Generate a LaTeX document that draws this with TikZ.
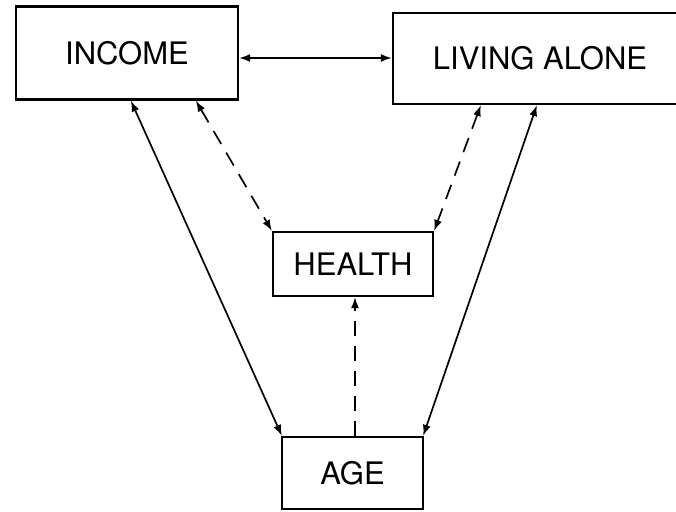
\documentclass[tikz,border=0pt]{standalone}
\usepackage{fontspec}
\setmainfont{TeX Gyre Heros}
\usetikzlibrary{arrows.meta}
\begin{document}
\begin{tikzpicture}[x=1pt,y=-1pt,
  tip/.tip={Latex[length=11pt,width=8pt]},
  box/.style={draw,line width=2.3pt,inner sep=0pt,font=\fontsize{31}{31}\selectfont},
  link/.style={line width=1.7pt,tip-tip},
  dlink/.style={link,dash pattern=on 15pt off 10pt},
  uplink/.style={line width=1.7pt,-tip,dash pattern=on 15pt off 10pt}]
\useasboundingbox (0,0) rectangle (676,511);
\clip (0,0) rectangle (676,511);
% boxes
\node[box,minimum width=222pt,minimum height=93pt] (income) at (127,53) {INCOME};
\node[box,minimum width=294pt,minimum height=91pt] (living) at (540,58.5) {LIVING ALONE};
\node[box,minimum width=160pt,minimum height=64pt] (health) at (353,264) {HEALTH};
\node[box,minimum width=141pt,minimum height=72pt] (age) at (352.5,473) {AGE};
% solid links
\draw[link] ([yshift=-5pt]income.east) -- ([yshift=-5pt]income.east -| living.west);
\draw[link] ([xshift=116pt]income.south west) -- ([xshift=1pt]age.north west);
\draw[link] ([xshift=145pt]living.south west) -- ([xshift=-1pt]age.north east);
% dashed links
\draw[dlink] ([xshift=181pt]income.south west) -- (health.north west);
\draw[dlink] ([xshift=89pt]living.south west) -- (health.north east);
\draw[uplink] ([xshift=2.5pt]age.north) -- ([xshift=2.5pt]age.north |- health.south);
\end{tikzpicture}
\end{document}
